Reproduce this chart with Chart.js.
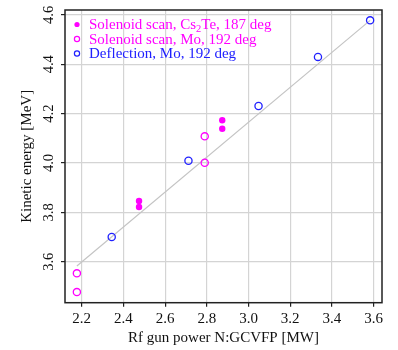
<!DOCTYPE html>
<html>
<head>
<meta charset="utf-8">
<script src="https://cdn.jsdelivr.net/npm/chart.js@4/dist/chart.umd.min.js"></script>
<style>
  html, body { margin: 0; padding: 0; background: #fff; }
  #wrap { width: 398px; height: 350px; }
</style>
</head>
<body>
<div id="wrap"><canvas id="energyChart"></canvas></div>
<script>
// values
const cs2teLabel = 'Solenoid scan, Cs\u2082Te, 187 deg';
const cs2tePower = [2.475, 2.475, 2.874, 2.874];
const cs2teEnergy = [3.846, 3.822, 4.173, 4.139];

const moLabel = 'Solenoid scan, Mo, 192 deg';
const moPower = [2.177, 2.177, 2.790, 2.790];
const moEnergy = [3.553, 3.477, 4.108, 4.001];

const deflLabel = 'Deflection, Mo, 192 deg';
const deflPower = [2.344, 2.712, 3.048, 3.333, 3.583];
const deflEnergy = [3.700, 4.009, 4.231, 4.430, 4.578];

const fitPower = [2.177, 3.583];
const fitEnergy = [3.583, 4.578];

const xTicks = [2.2, 2.4, 2.6, 2.8, 3.0, 3.2, 3.4, 3.6];
const yTicks = [3.6, 3.8, 4.0, 4.2, 4.4, 4.6];

const serif = '"Liberation Serif", "DejaVu Serif", serif';

function toPoints(xs, ys) {
    return xs.map((x, i) => ({ x: x, y: ys[i] }));
}

// frame round the plot area
const framePlugin = {
    id: 'frame',
    afterDraw(chart) {
        const a = chart.chartArea;
        const c = chart.ctx;
        c.save();
        c.strokeStyle = '#222';
        c.lineWidth = 1.5;
        c.strokeRect(a.left, a.top, a.right - a.left, a.bottom - a.top);
        c.restore();
    }
};

// draws a label, putting the unicode subscript two in a smaller, lower font
function drawLabel(c, text, x, y) {
    const parts = text.split('\u2082');
    parts.forEach((p, i) => {
        c.font = '15px ' + serif;
        c.fillText(p, x, y);
        x += c.measureText(p).width;
        if (i < parts.length - 1) {
            c.font = '10.5px ' + serif;
            c.fillText('2', x, y + 3.5);
            x += c.measureText('2').width;
        }
    });
}

// legend inside the top left corner
const insideLegend = {
    id: 'insideLegend',
    afterDraw(chart) {
        const a = chart.chartArea;
        const c = chart.ctx;
        c.save();
        c.textBaseline = 'middle';
        chart.data.datasets.forEach((ds, i) => {
            if (ds.noLegend) return;
            const y = a.top + 14.5 + i * 14.5;
            const mx = a.left + 12;
            c.beginPath();
            c.arc(mx, y, 2.6, 0, Math.PI * 2);
            if (ds.filled) {
                c.fillStyle = ds.borderColor;
                c.fill();
            } else {
                c.strokeStyle = ds.borderColor;
                c.lineWidth = 1.2;
                c.stroke();
            }
            c.fillStyle = ds.borderColor;
            drawLabel(c, ds.label, a.left + 24, y + 1);
        });
        c.restore();
    }
};

const ctx = document.getElementById('energyChart').getContext('2d');
const energyChart = new Chart(ctx, {
    type: 'scatter',
    data: {
        datasets: [
            {
                label: cs2teLabel,
                data: toPoints(cs2tePower, cs2teEnergy),
                backgroundColor: '#ff00ff',
                borderColor: '#ff00ff',
                pointRadius: 3.2,
                borderWidth: 0,
                filled: true,
                order: 1
            },
            {
                label: moLabel,
                data: toPoints(moPower, moEnergy),
                backgroundColor: 'rgba(0,0,0,0)',
                borderColor: '#ff00ff',
                pointRadius: 3.6,
                borderWidth: 1.3,
                order: 1
            },
            {
                label: deflLabel,
                data: toPoints(deflPower, deflEnergy),
                backgroundColor: 'rgba(0,0,0,0)',
                borderColor: '#2020ff',
                pointRadius: 3.6,
                borderWidth: 1.3,
                order: 1
            },
            {
                label: 'fit',
                type: 'line',
                data: toPoints(fitPower, fitEnergy),
                borderColor: '#c4c4c4',
                borderWidth: 1.2,
                pointRadius: 0,
                noLegend: true,
                order: 5
            }
        ]
    },
    options: {
        responsive: true,
        maintainAspectRatio: false,
        animation: false,
        events: [],
        layout: { padding: { top: 10, right: 16, left: 0, bottom: 0 } },
        plugins: {
            legend: { display: false },
            tooltip: { enabled: false }
        },
        scales: {
            x: {
                type: 'linear',
                min: 2.12,
                max: 3.64,
                afterBuildTicks: (scale) => { scale.ticks = xTicks.map(v => ({ value: v })); },
                afterFit: (scale) => { scale.height = 47.3; scale.paddingLeft = 0; scale.paddingRight = 0; },
                ticks: {
                    color: '#111',
                    padding: 3,
                    font: { family: serif, size: 15 },
                    maxRotation: 0,
                    callback: (v) => v.toFixed(1)
                },
                grid: { color: '#d4d4d4', lineWidth: 1.2, tickLength: 4, tickColor: '#222' },
                border: { display: false },
                title: {
                    display: true,
                    text: 'Rf gun power N:GCVFP [MW]',
                    color: '#111',
                    font: { family: serif, size: 15 },
                    padding: { top: 0, bottom: 3 }
                }
            },
            y: {
                type: 'linear',
                min: 3.434,
                max: 4.62,
                afterBuildTicks: (scale) => { scale.ticks = yTicks.map(v => ({ value: v })); },
                afterFit: (scale) => { scale.width = 65; scale.paddingTop = 0; scale.paddingBottom = 0; },
                ticks: {
                    color: '#111',
                    padding: 2.4,
                    crossAlign: 'center',
                    minRotation: 90,
                    maxRotation: 90,
                    font: { family: serif, size: 14.5 },
                    callback: (v) => v.toFixed(1)
                },
                grid: { color: '#d4d4d4', lineWidth: 1.2, tickLength: 4, tickColor: '#222' },
                border: { display: false },
                title: {
                    display: true,
                    text: 'Kinetic energy [MeV]',
                    color: '#111',
                    font: { family: serif, size: 15 },
                    padding: { top: 18, bottom: 0 }
                }
            }
        }
    },
    plugins: [framePlugin, insideLegend]
});
</script>
</body>
</html>
